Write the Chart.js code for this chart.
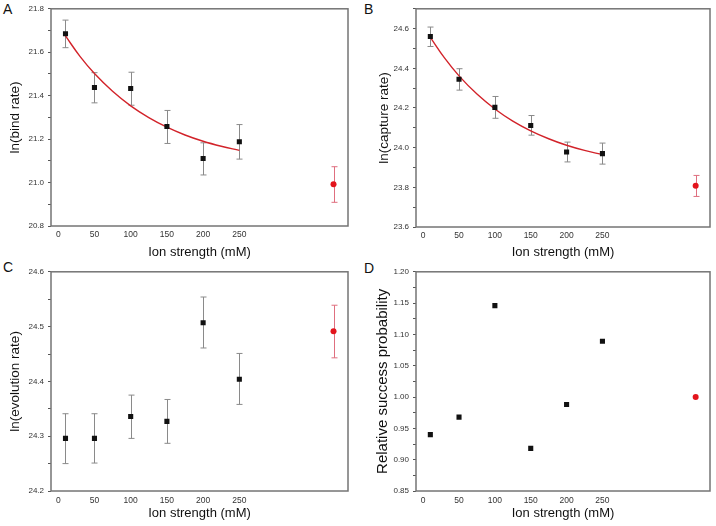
<!DOCTYPE html>
<html>
<head>
<meta charset="utf-8">
<script src="https://cdn.jsdelivr.net/npm/chart.js@4.4.1/dist/chart.umd.min.js"></script>
<style>
  body { margin: 0; background: #fff; width: 716px; height: 526px; position: relative; overflow: hidden;
         font-family: "Liberation Sans", Arial, sans-serif; }
  .panel { position: absolute; width: 358px; height: 263px; }
  .letter { position: absolute; font-size: 14px; line-height: 1; color: #111; }
</style>
</head>
<body>
<div class="letter" style="left:3px;top:2px">A</div>
<div class="letter" style="left:364px;top:2px">B</div>
<div class="letter" style="left:3px;top:260px">C</div>
<div class="letter" style="left:364px;top:261px">D</div>
<div class="panel" style="left:0;top:0"><canvas id="chartA" width="358" height="263"></canvas></div>
<div class="panel" style="left:358px;top:0"><canvas id="chartB" width="358" height="263"></canvas></div>
<div class="panel" style="left:0;top:263px"><canvas id="chartC" width="358" height="263"></canvas></div>
<div class="panel" style="left:358px;top:263px"><canvas id="chartD" width="358" height="263"></canvas></div>
<script>
// shared x values
const ionStrength = [10, 50, 100, 150, 200, 250];
const controlX = [380];
const xTicks = [0, 50, 100, 150, 200, 250];
const fitX = [10, 30, 50, 75, 100, 125, 150, 175, 200, 225, 250];

// A - ln(bind rate)
const bindRate = [21.685, 21.438, 21.433, 21.258, 21.111, 21.188];
const bindLow = [21.621, 21.367, 21.356, 21.180, 21.035, 21.108];
const bindHigh = [21.748, 21.506, 21.508, 21.332, 21.183, 21.267];
const bindCtrl = [20.992];
const bindCtrlLow = [20.909];
const bindCtrlHigh = [21.073];
const bindFit = [21.675, 21.581, 21.502, 21.420, 21.353, 21.299, 21.255, 21.219, 21.190, 21.167, 21.148];

// B - ln(capture rate)
const captureRate = [24.560, 24.345, 24.203, 24.112, 23.978, 23.970];
const captureLow = [24.510, 24.290, 24.148, 24.063, 23.928, 23.917];
const captureHigh = [24.608, 24.398, 24.258, 24.162, 24.028, 24.023];
const captureCtrl = [23.808];
const captureCtrlLow = [23.754];
const captureCtrlHigh = [23.860];
const captureFit = [24.556, 24.451, 24.362, 24.270, 24.195, 24.134, 24.085, 24.045, 24.012, 23.986, 23.965];

// C - ln(evolution rate)
const evolutionRate = [24.296, 24.296, 24.336, 24.327, 24.507, 24.404];
const evolutionLow = [24.250, 24.251, 24.296, 24.287, 24.461, 24.358];
const evolutionHigh = [24.341, 24.341, 24.375, 24.367, 24.554, 24.451];
const evolutionCtrl = [24.4915];
const evolutionCtrlLow = [24.443];
const evolutionCtrlHigh = [24.539];

// D - relative success probability
const successProb = [0.940, 0.968, 1.146, 0.918, 0.988, 1.089];
const successCtrl = [1.000];

Chart.defaults.font.family = "'Liberation Sans', Arial, sans-serif";
Chart.defaults.color = '#333';

const toPts = (xs, ys) => xs.map((x, i) => ({ x: x, y: ys[i] }));

// error bars, drawn with the chart's scales
const errorBars = {
  id: 'errorBars',
  beforeDatasetsDraw(chart) {
    const ctx = chart.ctx, xs = chart.scales.x, ys = chart.scales.y;
    chart.data.datasets.forEach(ds => {
      if (!ds.errLow) return;
      ctx.save();
      ctx.strokeStyle = ds.errColor;
      ctx.lineWidth = 1;
      ds.data.forEach((p, i) => {
        const px = Math.round(xs.getPixelForValue(p.x)) + 0.5;
        const lo = ys.getPixelForValue(ds.errLow[i]);
        const hi = ys.getPixelForValue(ds.errHigh[i]);
        ctx.beginPath();
        ctx.moveTo(px, lo); ctx.lineTo(px, hi);
        ctx.moveTo(px - 3, lo); ctx.lineTo(px + 3, lo);
        ctx.moveTo(px - 3, hi); ctx.lineTo(px + 3, hi);
        ctx.stroke();
      });
      ctx.restore();
    });
  }
};

// box round the plot area
const frame = {
  id: 'frame',
  afterDraw(chart) {
    const a = chart.chartArea, ctx = chart.ctx;
    ctx.save();
    ctx.strokeStyle = '#747474';
    ctx.lineWidth = 1.5;
    ctx.strokeRect(a.left, a.top, a.right - a.left, a.bottom - a.top);
    ctx.restore();
  }
};

function makePanel(id, p) {
  const datasets = [];
  if (p.fit) {
    datasets.push({
      type: 'line', data: toPts(fitX, p.fit), borderColor: '#d2232a', borderWidth: 1.4,
      pointRadius: 0, tension: 0.4, fill: false, order: 3
    });
  }
  datasets.push({
    data: toPts(ionStrength, p.values), pointStyle: 'rect', pointRadius: 3.6,
    backgroundColor: '#111', borderColor: '#111', borderWidth: 0,
    errLow: p.low, errHigh: p.high, errColor: '#8a8a8a', order: 1
  });
  datasets.push({
    data: toPts(controlX, p.ctrl), pointStyle: 'circle', pointRadius: 3,
    backgroundColor: '#e3141c', borderColor: '#e3141c', borderWidth: 0,
    errLow: p.ctrlLow, errHigh: p.ctrlHigh, errColor: '#df6f7f', order: 2
  });

  return new Chart(document.getElementById(id), {
    type: 'scatter',
    data: { datasets: datasets },
    plugins: [errorBars, frame],
    options: {
      responsive: false,
      animation: false,
      layout: { padding: { top: p.area.top, right: 358 - p.area.right, left: 0, bottom: 0 } },
      plugins: { legend: { display: false }, tooltip: { enabled: false } },
      scales: {
        x: {
          type: 'linear', min: -10, max: 400,
          afterBuildTicks: s => { s.ticks = xTicks.map(v => ({ value: v })); },
          afterFit: s => { s.height = 263 - p.area.bottom; },
          grid: { display: true, drawOnChartArea: false, drawTicks: false },
          border: { display: false },
          ticks: { font: { size: 8.5 }, padding: p.xTickPad, maxRotation: 0 },
          title: { display: true, text: 'Ion strength (mM)', font: { size: 13 }, color: '#111',
                   padding: { top: 0, bottom: p.xTitlePad } }
        },
        y: {
          min: p.yMin, max: p.yMax,
          ticks: {
            stepSize: p.yStep / 2, font: { size: 8 }, padding: 4,
            callback: (v, i) => (i % 2 === 0 ? Number(v).toFixed(p.dec) : '')
          },
          afterFit: s => { s.width = p.area.left; },
          grid: { drawOnChartArea: false, drawTicks: true, tickLength: 3, color: '#555' },
          border: { display: false },
          title: { display: true, text: p.yTitle, font: { size: p.yTitleSize }, color: '#111',
                   padding: { top: p.yTitlePad, bottom: 0 } }
        }
      }
    }
  });
}

makePanel('chartA', {
  values: bindRate, low: bindLow, high: bindHigh,
  ctrl: bindCtrl, ctrlLow: bindCtrlLow, ctrlHigh: bindCtrlHigh, fit: bindFit,
  yMin: 20.8, yMax: 21.8, yStep: 0.2, dec: 1, yTitle: 'ln(bind rate)', yTitleSize: 13.5, yTitlePad: 7,
  xTickPad: 4, xTitlePad: 3, area: { left: 51, top: 6, right: 348, bottom: 226 }
});

makePanel('chartB', {
  values: captureRate, low: captureLow, high: captureHigh,
  ctrl: captureCtrl, ctrlLow: captureCtrlLow, ctrlHigh: captureCtrlHigh, fit: captureFit,
  yMin: 23.6, yMax: 24.7, yStep: 0.2, dec: 1, yTitle: 'ln(capture rate)', yTitleSize: 13.5, yTitlePad: 18,
  xTickPad: 4, xTitlePad: 3, area: { left: 58, top: 6, right: 352, bottom: 227 }
});

makePanel('chartC', {
  values: evolutionRate, low: evolutionLow, high: evolutionHigh,
  ctrl: evolutionCtrl, ctrlLow: evolutionCtrlLow, ctrlHigh: evolutionCtrlHigh,
  yMin: 24.2, yMax: 24.6, yStep: 0.1, dec: 1, yTitle: 'ln(evolution rate)', yTitleSize: 13.5, yTitlePad: 7,
  xTickPad: 5, xTitlePad: 5, area: { left: 51, top: 8, right: 348, bottom: 228 }
});

makePanel('chartD', {
  values: successProb, ctrl: successCtrl,
  yMin: 0.85, yMax: 1.20, yStep: 0.05, dec: 2, yTitle: 'Relative success probability', yTitleSize: 15, yTitlePad: 16,
  xTickPad: 5, xTitlePad: 5, area: { left: 58, top: 7, right: 352, bottom: 228 }
});
</script>
</body>
</html>
